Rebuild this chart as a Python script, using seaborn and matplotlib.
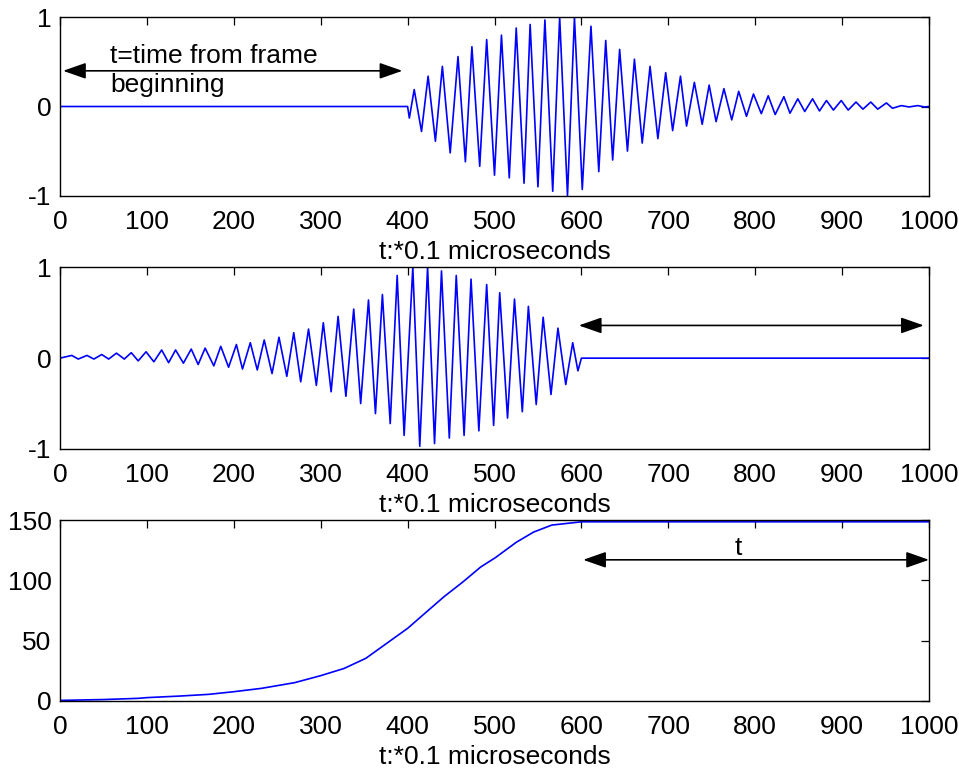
import matplotlib
matplotlib.use("Agg")
import matplotlib.pyplot as plt
import numpy as np
import pandas as pd
import seaborn as sns

# ---------------- data ----------------
# top panel: received burst (extrema of the oscillation)
top_t = [0, 400, 402, 407.6, 416, 423.6, 432, 440, 449, 458, 466.5, 474, 483, 491,
         500, 508, 517, 525, 534, 541, 550, 558, 567, 575, 584, 592, 601, 611, 620,
         628, 636, 644, 653, 661, 670, 679, 688, 697, 705, 714, 721, 730, 739, 747,
         755, 764, 773, 781, 790, 798, 807, 815, 823, 833, 840, 849, 857, 866, 874,
         882, 890, 899, 907, 916, 924, 933, 941, 951, 958, 968, 977, 987, 995, 1000]
top_amp = [0, 0, -0.13, 0.19, -0.28, 0.34, -0.39, 0.45, -0.52, 0.56, -0.62, 0.67,
           -0.67, 0.75, -0.77, 0.80, -0.80, 0.88, -0.86, 0.92, -0.90, 0.97, -0.95,
           1.0, -1.0, 1.0, -0.93, 0.90, -0.73, 0.74, -0.60, 0.64, -0.50, 0.53, -0.41,
           0.45, -0.36, 0.38, -0.27, 0.34, -0.22, 0.27, -0.20, 0.24, -0.17, 0.20,
           -0.15, 0.17, -0.11, 0.14, -0.08, 0.12, -0.09, 0.11, -0.075, 0.086, -0.056,
           0.086, -0.05, 0.067, -0.04, 0.067, -0.04, 0.05, -0.03, 0.05, -0.03, 0.04,
           -0.02, 0.01, -0.005, 0.01, -0.005, 0.0]

# middle panel: reversed burst
mid_t = [0, 13.6, 21, 31, 39, 48, 56, 65, 74, 82, 90, 99, 108, 117, 125, 133, 142,
         151, 159, 167, 177, 185, 194, 203, 210, 219, 227, 235, 244, 252, 261, 269,
         277, 286, 295, 303, 312, 320, 329, 338, 346, 355, 363, 371, 380, 388, 396,
         406, 414, 423, 431, 439, 448, 456, 465, 473, 482, 491, 499, 506, 515, 523,
         532, 539, 548, 556, 565, 573, 582, 590, 596, 600, 1000]
mid_amp = [0, 0.03, -0.01, 0.03, -0.01, 0.04, -0.01, 0.055, -0.01, 0.06, -0.03,
           0.07, -0.04, 0.09, -0.05, 0.09, -0.055, 0.10, -0.07, 0.11, -0.085, 0.13,
           -0.10, 0.15, -0.12, 0.17, -0.13, 0.20, -0.17, 0.23, -0.20, 0.28, -0.26,
           0.32, -0.30, 0.39, -0.37, 0.46, -0.42, 0.54, -0.50, 0.64, -0.61, 0.70,
           -0.72, 0.91, -0.85, 1.0, -0.97, 1.0, -0.94, 0.96, -0.88, 0.91, -0.85,
           0.87, -0.80, 0.81, -0.74, 0.72, -0.66, 0.65, -0.59, 0.57, -0.51, 0.45,
           -0.40, 0.33, -0.29, 0.17, -0.14, 0, 0]

# bottom panel: cumulative curve
cum_t = [0, 50, 90, 100, 138, 171, 200, 232, 270, 300, 327, 352, 376, 400, 422, 442,
         463, 484, 501, 525, 545, 566, 600, 1000]
cum_val = [0.5, 1.2, 2.2, 2.8, 4.1, 5.5, 7.7, 10.5, 15.2, 21, 27, 35.4, 47.8, 60.2,
           74, 86.5, 98.3, 111, 118.8, 131.5, 140, 145.8, 148.5, 148.5]

x_ticks = [0, 100, 200, 300, 400, 500, 600, 700, 800, 900, 1000]
wave_yticks = [-1, 0, 1]
cum_yticks = [0, 50, 100, 150]
x_label = "t:*0.1 microseconds"
top_note = ["t=time from frame", "beginning"]
bottom_note = "t"

# ---------------- drawing ----------------
sns.set_theme(style="white")
plt.rcParams['font.family'] = ['Liberation Sans', 'DejaVu Sans']
plt.rcParams['text.color'] = 'black'
plt.rcParams['axes.labelcolor'] = 'black'

W, H = 959, 773
fig = plt.figure(figsize=(W / 100, H / 100), dpi=100, facecolor="white")

def frac(left, top, right, bottom):
    return [left / W, 1 - bottom / H, (right - left) / W, (bottom - top) / H]

ax_top = fig.add_axes(frac(60, 17.3, 929, 195.7))
ax_mid = fig.add_axes(frac(60, 267.3, 929, 449))
ax_bot = fig.add_axes(frac(60, 520, 929, 701))

FS = 19
blue = "#0000FF"

panels = [
    (ax_top, top_t, top_amp, (-1, 1), wave_yticks),
    (ax_mid, mid_t, mid_amp, (-1, 1), wave_yticks),
    (ax_bot, cum_t, cum_val, (0, 150), cum_yticks),
]
for ax, xs, ys, ylim, yt in panels:
    df = pd.DataFrame({"t": xs, "v": ys})
    sns.lineplot(data=df, x="t", y="v", ax=ax, color=blue, linewidth=1.2,
                 sort=False, estimator=None)
    ax.set_xlim(0, 1000)
    ax.set_ylim(*ylim)
    ax.set_xticks(x_ticks)
    ax.set_yticks(yt)
    ax.set_xticklabels([str(v) for v in x_ticks])
    ax.set_yticklabels([str(v) for v in yt])
    ax.set_xlabel(x_label, fontsize=FS, labelpad=4.5, color="black")
    ax.set_ylabel("")
    ax.tick_params(direction="in", length=5.5, width=0.9, top=True, right=True,
                   labelsize=FS, colors="black")
    ax.tick_params(axis="x", pad=10)
    ax.tick_params(axis="y", pad=6)
    for s in ax.spines.values():
        s.set_visible(True)
        s.set_color("black")
        s.set_linewidth(1.0)
    ax.grid(False)
    ax.set_facecolor("white")

arrow_kw = dict(arrowstyle="<|-|>,head_length=1.0,head_width=0.35",
                color="black", lw=1.2, mutation_scale=14, shrinkA=0, shrinkB=0)

# top panel annotation
ax_top.annotate("", xy=(3.5, 0.40), xytext=(394, 0.40), arrowprops=arrow_kw)
ax_top.text(57.7, 0.49, top_note[0], fontsize=FS, va="baseline", ha="left", color="black")
ax_top.text(57.7, 0.16, top_note[1], fontsize=FS, va="baseline", ha="left", color="black")

# middle panel annotation
ax_mid.annotate("", xy=(597, 0.36), xytext=(994, 0.36), arrowprops=arrow_kw)

# bottom panel annotation
ax_bot.annotate("", xy=(602, 117), xytext=(1000, 117), arrowprops=arrow_kw)
ax_bot.text(781, 121, bottom_note, fontsize=FS, va="baseline", ha="center", color="black")

fig.savefig("out.png", dpi=100, facecolor="white")
